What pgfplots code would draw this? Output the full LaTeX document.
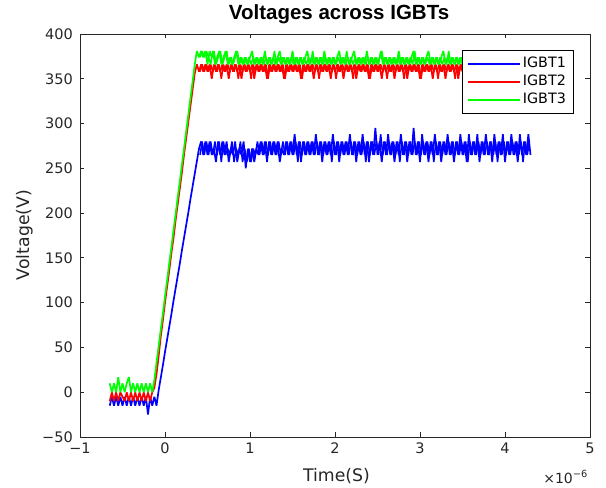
\documentclass[border=0pt]{standalone}
\usepackage{pgfplots}
\pgfplotsset{compat=1.18}
\usepackage{pgfplotstable}
\usepackage{fontspec}
\setmainfont{DejaVu Sans}
\newfontfamily\titlefont{Liberation Sans}
\definecolor{axgray}{gray}{0.15}
\definecolor{mblue}{rgb}{0,0,1}
\definecolor{mred}{rgb}{1,0,0}
\definecolor{mgreen}{rgb}{0,1,0}

\pgfplotstableread{
x b r g
-0.650 -15 -10 10
-0.625 -5 0 0
-0.600 -15 -10 10
-0.575 -5 0 0
-0.550 -15 -10 17
-0.525 -5 0 0
-0.500 -15 -5 10
-0.475 -5 -10 0
-0.450 -15 0 10
-0.425 -5 -10 17
-0.400 -15 0 0
-0.375 -5 -10 10
-0.350 -15 0 0
-0.325 -5 -10 10
-0.300 -15 0 0
-0.275 -5 -10 10
-0.250 -15 0 0
-0.225 -5 -10 10
-0.200 -25 0 0
-0.175 -5 -10 10
-0.150 -15 0 0
-0.125 -5 5 14
-0.100 -15 20 33
-0.075 2 40 51
-0.050 16 62 70
-0.025 30 80 88
0.000 45 100 107
0.025 59 118 125
0.050 73 136 144
0.075 87 155 162
0.100 102 172 181
0.125 116 192 199
0.150 130 210 218
0.175 144 228 236
0.200 159 246 255
0.225 173 266 273
0.250 187 284 292
0.275 201 302 310
0.300 216 320 329
0.325 230 338 347
0.350 244 356 366
0.375 258 366 381
0.400 272 358 374
0.425 280 366 381
0.450 265 358 374
0.475 280 366 381
0.500 265 358 366
0.525 280 366 381
0.550 265 350 374
0.575 272 366 381
0.600 257 358 366
0.625 280 366 374
0.650 265 358 381
0.675 280 366 366
0.700 265 358 374
0.725 280 366 381
0.750 257 350 366
0.775 272 366 374
0.800 265 358 366
0.825 280 366 374
0.850 257 358 381
0.875 272 366 366
0.900 265 350 374
0.925 280 366 366
0.950 250 358 374
0.975 272 366 366
1.000 257 358 374
1.025 272 366 381
1.050 257 350 366
1.075 272 366 374
1.100 265 358 366
1.125 280 366 374
1.150 265 358 366
1.175 280 366 381
1.200 257 350 366
1.225 280 366 374
1.250 265 358 366
1.275 280 366 374
1.300 265 358 366
1.325 280 366 374
1.350 257 358 381
1.375 272 366 366
1.400 265 350 374
1.425 280 366 366
1.450 265 358 374
1.475 280 366 366
1.500 265 358 381
1.525 288 366 366
1.550 265 358 374
1.575 280 366 366
1.600 257 350 374
1.625 280 366 366
1.650 265 358 374
1.675 280 366 381
1.700 265 358 366
1.725 280 366 374
1.750 265 350 366
1.775 288 366 374
1.800 265 358 366
1.825 280 366 374
1.850 257 358 366
1.875 280 366 381
1.900 265 358 366
1.925 280 366 374
1.950 265 350 366
1.975 288 366 374
2.000 265 358 366
2.025 280 366 374
2.050 257 358 381
2.075 280 366 366
2.100 265 350 374
2.125 280 366 366
2.150 265 358 374
2.175 288 366 366
2.200 265 358 374
2.225 280 366 381
2.250 257 350 366
2.275 280 366 374
2.300 265 358 366
2.325 288 366 374
2.350 265 358 366
2.375 280 366 381
2.400 257 350 366
2.425 280 366 374
2.450 265 358 366
2.475 295 366 374
2.500 265 358 366
2.525 280 366 374
2.550 257 350 381
2.575 280 366 366
2.600 265 358 374
2.625 288 366 366
2.650 265 358 374
2.675 280 366 366
2.700 257 350 374
2.725 280 366 366
2.750 265 358 381
2.775 288 366 366
2.800 265 358 374
2.825 280 366 366
2.850 257 350 374
2.875 280 366 366
2.900 265 358 374
2.925 295 366 381
2.950 265 358 366
2.975 280 366 374
3.000 257 350 366
3.025 288 366 374
3.050 265 358 366
3.075 280 366 374
3.100 257 358 381
3.125 280 366 366
3.150 265 350 374
3.175 288 366 366
3.200 265 358 374
3.225 280 366 366
3.250 257 358 374
3.275 280 366 381
3.300 265 350 366
3.325 288 366 374
3.350 265 358 366
3.375 280 366 374
3.400 257 358 366
3.425 280 366 374
3.450 265 350 366
3.475 288 366 374
3.500 265 358 366
3.525 280 366 374
3.550 257 358 366
3.575 288 366 374
3.600 265 350 366
3.625 280 366 374
3.650 265 358 366
3.675 288 366 374
3.700 257 358 366
3.725 280 366 374
3.750 265 350 366
3.775 288 366 374
3.800 265 358 366
3.825 280 366 374
3.850 257 358 366
3.875 288 366 374
3.900 265 350 366
3.925 280 366 374
3.950 265 358 366
3.975 288 366 374
4.000 257 358 366
4.025 280 366 374
4.050 265 350 366
4.075 288 366 374
4.100 265 358 366
4.125 280 366 374
4.150 257 358 366
4.175 288 366 374
4.200 265 350 366
4.225 280 366 374
4.250 265 358 366
4.275 288 366 374
4.300 265 358 366
}\datatable

% interleaved samples between the rows above (plateau only)
\pgfplotstableread{
x b r g
0.4125 265 358 374
0.4375 280 366 381
0.4625 265 358 374
0.4875 280 366 381
0.5125 265 358 374
0.5375 280 366 366
0.5625 265 358 381
0.5875 280 366 366
0.6125 265 358 374
0.6375 280 366 381
0.6625 257 350 366
0.6875 280 366 374
0.7125 265 358 381
0.7375 272 366 366
0.7625 265 358 374
0.7875 280 366 366
0.8125 257 358 374
0.8375 272 366 381
0.8625 265 350 366
0.8875 280 366 374
0.9125 257 358 366
0.9375 272 366 374
0.9625 257 358 366
0.9875 272 366 374
1.0125 257 350 366
1.0375 272 366 374
1.0625 265 358 366
1.0875 280 366 374
1.1125 265 358 366
1.1375 280 366 374
1.1625 265 358 366
1.1875 280 366 374
1.2125 265 350 366
1.2375 280 366 374
1.2625 265 358 366
1.2875 280 366 381
1.3125 265 358 366
1.3375 280 366 374
1.3625 265 358 366
1.3875 280 366 374
1.4125 265 350 366
1.4375 280 366 374
1.4625 265 358 366
1.4875 280 366 374
1.5125 265 358 366
1.5375 280 366 374
1.5625 257 358 366
1.5875 280 366 374
1.6125 265 350 366
1.6375 280 366 374
1.6625 265 358 366
1.6875 280 366 374
1.7125 265 358 366
1.7375 280 366 381
1.7625 265 358 366
1.7875 280 366 374
1.8125 265 350 366
1.8375 280 366 374
1.8625 265 358 366
1.8875 280 366 374
1.9125 265 358 366
1.9375 280 366 374
1.9625 257 358 366
1.9875 280 366 374
2.0125 265 350 366
2.0375 280 366 374
2.0625 265 358 366
2.0875 280 366 374
2.1125 265 358 366
2.1375 280 366 381
2.1625 265 358 366
2.1875 280 366 374
2.2125 265 350 366
2.2375 280 366 374
2.2625 265 358 366
2.2875 280 366 374
2.3125 265 358 366
2.3375 280 366 374
2.3625 257 358 366
2.3875 280 366 374
2.4125 265 350 366
2.4375 280 366 374
2.4625 265 358 366
2.4875 280 366 374
2.5125 265 358 366
2.5375 288 366 381
2.5625 265 358 366
2.5875 280 366 374
2.6125 265 350 366
2.6375 280 366 374
2.6625 265 358 366
2.6875 280 366 374
2.7125 265 358 366
2.7375 280 366 374
2.7625 257 358 366
2.7875 280 366 374
2.8125 265 350 366
2.8375 280 366 374
2.8625 265 358 366
2.8875 280 366 374
2.9125 265 358 366
2.9375 280 366 381
2.9625 265 358 366
2.9875 280 366 374
3.0125 265 350 366
3.0375 280 366 374
3.0625 265 358 366
3.0875 280 366 374
3.1125 265 358 366
3.1375 280 366 374
3.1625 257 358 366
3.1875 280 366 374
3.2125 265 350 366
3.2375 280 366 374
3.2625 265 358 366
3.2875 280 366 374
3.3125 265 358 366
3.3375 280 366 381
3.3625 265 358 366
3.3875 280 366 374
3.4125 265 350 366
3.4375 280 366 374
3.4625 265 358 366
3.4875 280 366 374
3.5125 265 358 366
3.5375 280 366 374
3.5625 257 358 366
3.5875 280 366 374
3.6125 265 350 366
3.6375 280 366 374
3.6625 265 358 366
3.6875 280 366 374
3.7125 265 358 366
3.7375 280 366 374
3.7625 265 358 366
3.7875 280 366 374
3.8125 265 350 366
3.8375 280 366 374
3.8625 265 358 366
3.8875 280 366 374
3.9125 257 358 366
3.9375 280 366 374
3.9625 265 358 366
3.9875 280 366 374
4.0125 265 350 366
4.0375 280 366 374
4.0625 265 358 366
4.0875 280 366 374
4.1125 265 358 366
4.1375 280 366 374
4.1625 265 358 366
4.1875 280 366 374
4.2125 257 350 366
4.2375 280 366 374
4.2625 265 358 366
4.2875 280 366 374
}\halftable

\begin{document}
\begin{tikzpicture}
\useasboundingbox (-80pt,-51pt) rectangle (526pt,437pt);
\begin{axis}[
  at={(0pt,0pt)}, anchor=south west,
  scale only axis, width=510pt, height=403pt,
  xmin=-1, xmax=5, ymin=-50, ymax=400,
  xtick={-1,0,1,2,3,4,5}, xticklabels={−1,0,1,2,3,4,5},
  ytick={-50,0,50,100,150,200,250,300,350,400},
  yticklabels={−50,0,50,100,150,200,250,300,350,400},
  tick pos=both, xticklabel pos=lower, yticklabel pos=left,
  tick align=inside, major tick length=4.5pt,
  axis line style={axgray, line width=0.8pt},
  every tick/.style={axgray, line width=0.8pt},
  ticklabel style={font=\fontsize{14.5}{17}\selectfont, text=axgray, inner sep=0pt},
  xticklabel style={anchor=north, yshift=-6pt},
  yticklabel style={anchor=east, xshift=-7pt},
  xlabel={Time(S)}, ylabel={Voltage(V)},
  label style={font=\fontsize{17.3}{20}\selectfont, text=axgray, inner sep=0pt},
  xlabel style={at={(axis description cs:0.503,-0.0769)}, anchor=north},
  ylabel style={at={(axis description cs:-0.1078,0.501)}, anchor=center},
  title={Voltages across IGBTs},
  title style={font=\titlefont\bfseries\fontsize{20.5}{24}\selectfont, text=black, inner sep=0pt,
    at={(axis description cs:0.508,1.0223)}, anchor=base},
  legend style={at={(0.967,0.960)}, anchor=north east, draw, line width=0.6pt, fill=white,
    font=\fontsize{14.3}{17}\selectfont, inner xsep=5pt, inner ysep=4.5pt,
    nodes={inner sep=2pt, text height=11pt, text depth=3pt}, cells={anchor=west},
    /tikz/every even column/.append style={column sep=3pt}},
  legend image code/.code={\draw[#1, line width=1.3pt] (0pt,0pt) -- (52pt,0pt);},
]
\addplot[draw=mblue, line width=1.7pt, line join=bevel] table[x=x,y=b]{\datatable};
\addlegendentry{IGBT1}
\addplot[draw=mblue, line width=1.5pt, line join=bevel, forget plot] table[x=x,y=b]{\halftable};
\addplot[draw=mred, line width=1.7pt, line join=bevel] table[x=x,y=r]{\datatable};
\addlegendentry{IGBT2}
\addplot[draw=mred, line width=1.5pt, line join=bevel, forget plot] table[x=x,y=r]{\halftable};
\addplot[draw=mgreen, line width=1.7pt, line join=bevel] table[x=x,y=g]{\datatable};
\addlegendentry{IGBT3}
\addplot[draw=mgreen, line width=1.5pt, line join=bevel, forget plot] table[x=x,y=g]{\halftable};
\end{axis}
\node[anchor=base east, inner sep=0pt, text=axgray, font=\fontsize{14}{16}\selectfont] at (508pt,-46pt) {×10\textsuperscript{−6}};
\end{tikzpicture}
\end{document}
